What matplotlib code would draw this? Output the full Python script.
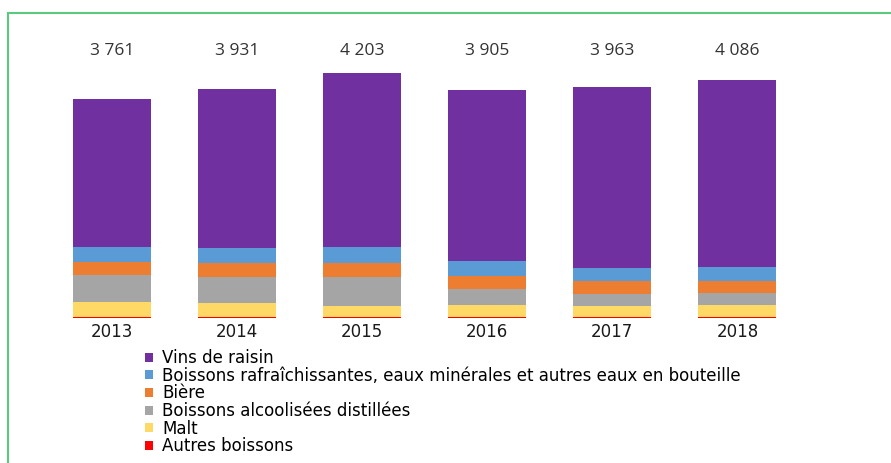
import numpy as np
import matplotlib.pyplot as plt
from matplotlib.patches import Patch
from matplotlib.lines import Line2D

years = ['2013', '2014', '2015', '2016', '2017', '2018']
totals = [3761, 3931, 4203, 3905, 3963, 4086]
total_labels = ['3 761', '3 931', '4 203', '3 905', '3 963', '4 086']

# tonnes (approx)
autres = [12, 12, 10, 10, 10, 20]
malt = [257, 245, 200, 218, 189, 206]
distillees = [463, 453, 497, 262, 218, 206]
biere = [223, 240, 240, 235, 216, 206]
rafraich = [257, 250, 274, 257, 218, 235]
vins = [t - a - m - d - b - r for t, a, m, d, b, r in
        zip(totals, autres, malt, distillees, biere, rafraich)]

series = [
    ('Autres boissons', autres, '#ff0000'),
    ('Malt', malt, '#ffd966'),
    ('Boissons alcoolisées distillées', distillees, '#a5a5a5'),
    ('Bière', biere, '#ed7d31'),
    ('Boissons rafraîchissantes, eaux minérales et autres eaux en bouteille', rafraich, '#5b9bd5'),
    ('Vins de raisin', vins, '#7030a0'),
]

W, H = 891, 463
fig = plt.figure(figsize=(W / 100, H / 100), dpi=100)
ax = fig.add_axes([49.5 / W, 145 / H, 750.5 / W, 278 / H])

x = np.arange(len(years))
bottom = np.zeros(len(years))
for name, vals, col in series:
    ax.bar(x, vals, 0.624, bottom=bottom, color=col, edgecolor='none')
    bottom += np.array(vals)

ax.set_xlim(-0.5, 5.5)
ax.set_ylim(0, 278 / 0.0583)
for i, lab in enumerate(total_labels):
    ax.text(x[i], (318 - 51) / 0.0583, lab, ha='center', va='center',
            fontsize=12.5, family='Open Sans', color='#333333')

ax.set_xticks(x)
ax.set_xticklabels(years, family='DejaVu Sans', fontsize=12, color='#1a1a1a')
ax.tick_params(axis='x', length=0, pad=3.5)
ax.set_yticks([])
for s in ax.spines.values():
    s.set_visible(False)

handles = [Patch(facecolor=col, edgecolor='none', label=name)
           for name, vals, col in series[::-1]]
fig.legend(handles=handles, loc='upper left', bbox_to_anchor=(145 / W, 1 - 349 / H),
           frameon=False, prop={'family': 'DejaVu Sans', 'size': 12},
           handlelength=0.48, handleheight=0.45, handletextpad=0.55,
           labelspacing=-0.02, borderpad=0, borderaxespad=0)

# green frame around the chart
gc = '#5cc880'
fig.add_artist(Line2D([8 / W, 1.0], [1 - 13 / H] * 2, color=gc, lw=1.5,
                      transform=fig.transFigure))
fig.add_artist(Line2D([8 / W] * 2, [0, 1 - 13 / H], color=gc, lw=1.5,
                      transform=fig.transFigure))

fig.savefig('out.png', dpi=100)
